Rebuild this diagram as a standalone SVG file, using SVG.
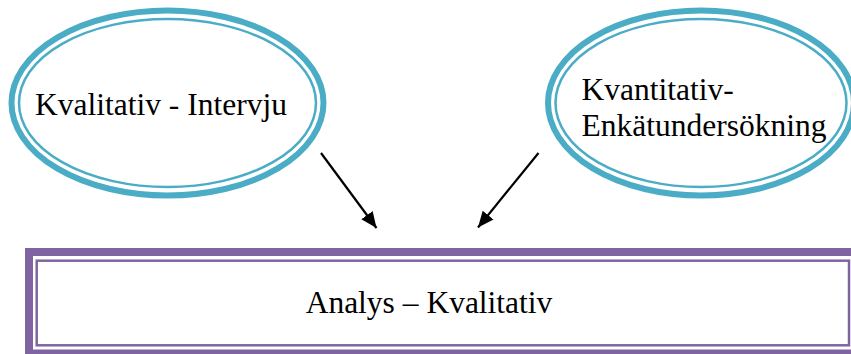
<svg xmlns="http://www.w3.org/2000/svg" width="851" height="354" viewBox="0 0 851 354">
  <style>
    .ring-out { fill: #ffffff; stroke: #4BACC6; stroke-width: 6; }
    .ring-in { fill: none; stroke: #4BACC6; stroke-width: 2.5; }
    .box-out { fill: #ffffff; stroke: #8064A2; stroke-width: 8; }
    .box-in { fill: none; stroke: #8064A2; stroke-width: 2.5; }
    .lbl { font-family: "Liberation Serif", "Times New Roman", serif; font-size: 31.5px; fill: #000000; }
    .conn { stroke: #000000; stroke-width: 2.2; fill: none; marker-end: url(#arrow); }
  </style>
  <defs>
    <marker id="arrow" markerUnits="userSpaceOnUse" markerWidth="18" markerHeight="16" refX="16" refY="7" orient="auto">
      <path d="M0,0 L16,7 L0,14 Z" fill="#000000"/>
    </marker>
  </defs>
  <rect width="851" height="354" fill="#ffffff"/>

  <g id="node-kvalitativ">
    <ellipse class="ring-out" cx="167.5" cy="103" rx="156" ry="92.5"/>
    <ellipse class="ring-in" cx="167.5" cy="103" rx="148.5" ry="84"/>
    <text class="lbl" x="35" y="115">Kvalitativ - Intervju</text>
  </g>

  <g id="node-kvantitativ">
    <ellipse class="ring-out" cx="701" cy="103" rx="153" ry="92.5"/>
    <ellipse class="ring-in" cx="701" cy="103" rx="145.5" ry="84"/>
    <text class="lbl" x="581.5" y="99.5">Kvantitativ-</text>
    <text class="lbl" x="581.5" y="136">Enkätundersökning</text>
  </g>

  <g id="node-analys">
    <rect class="box-out" x="29" y="252" width="830" height="101.5"/>
    <rect class="box-in" x="36.7" y="260.7" width="812.3" height="84.6"/>
    <text class="lbl" x="429" y="313" text-anchor="middle">Analys – Kvalitativ</text>
  </g>

  <g id="connectors">
    <line class="conn" x1="321" y1="153" x2="376.5" y2="228"/>
    <line class="conn" x1="538.5" y1="153" x2="478" y2="227.5"/>
  </g>
</svg>
